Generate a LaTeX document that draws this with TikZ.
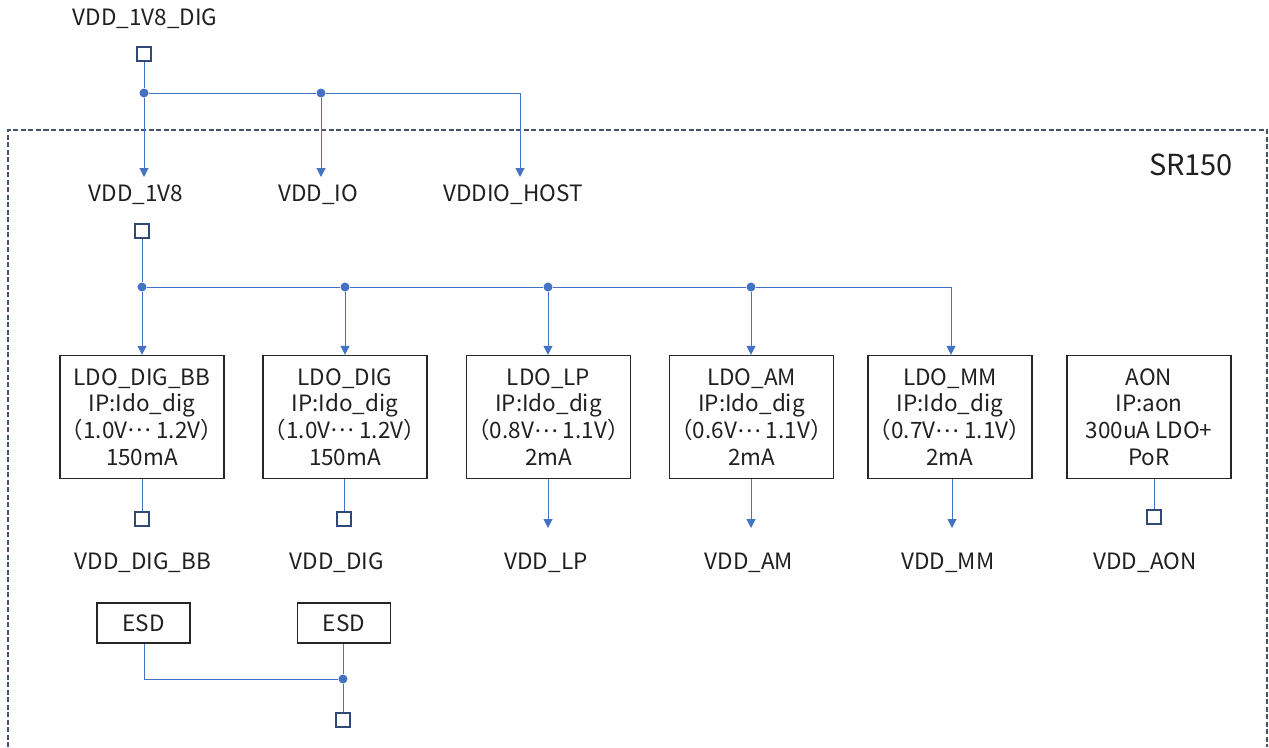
\documentclass[tikz,border=0pt]{standalone}
\usepackage{fontspec}
\setmainfont{Noto Sans CJK JP}
\usetikzlibrary{arrows.meta}
\definecolor{wirec}{HTML}{4472C4}
\definecolor{pinc}{HTML}{2F4A78}
\definecolor{framec}{HTML}{44546A}
\definecolor{txtc}{HTML}{202020}
\newcommand{\midell}{\raisebox{0.3em}{…}}
\begin{document}
\begin{tikzpicture}[x=1pt,y=-1pt,
  wire/.style={draw=wirec, line width=1pt},
  arr/.style={draw=wirec, line width=1pt, -{Triangle[width=9pt,length=9pt]}},
  pinsq/.style={draw=pinc, line width=1.6pt, fill=white, minimum size=14pt, inner sep=0pt},
  jdot/.style={circle, fill=wirec, inner sep=0pt, minimum size=9pt},
  ldobox/.style={draw=black!85, line width=1.4pt, minimum width=164pt, minimum height=123pt,
     inner sep=0pt, align=center, font=\fontsize{22.5}{26.8}\selectfont, text=txtc},
  esdbox/.style={draw=black!85, line width=1.4pt, minimum width=93pt, minimum height=40pt,
     inner sep=0pt, font=\fontsize{22.5}{26}\selectfont, text=txtc},
  lbl/.style={inner sep=0pt, font=\fontsize{22.5}{26}\selectfont, text=txtc}]
\useasboundingbox (0,0) rectangle (1269,747);
% frame
\draw[draw=framec, line width=1.6pt, dash pattern=on 5pt off 2.5pt]
  (8,747) -- (8,130) -- (1267,130) -- (1267,747);
\node[lbl, font=\fontsize{29}{32}\selectfont] (sr) at (1191,165) {SR150};
% top supply
\node[lbl] (vdig) at (145,19) {VDD\_1V8\_DIG};
\node[pinsq] (p0) at (144,54) {};
\node[jdot] (d0) at (144,93) {};
\node[jdot] (d1) at (321,93) {};
\coordinate (c0) at (520,93);
\coordinate (a1) at (144,177);
\coordinate (a2) at (321,177);
\coordinate (a3) at (520,177);
\draw[wire] (p0) -- (d0);
\draw[wire] (d0) -- (d1) -- (c0);
\draw[arr] (d0) -- (a1);
\draw[arr] (d1) -- (a2);
\draw[arr] (c0) -- (a3);
\node[lbl] (v18) at (136,195) {VDD\_1V8};
\node[lbl] (vio) at (318,195) {VDD\_IO};
\node[lbl] (vhost) at (513,195) {VDDIO\_HOST};
% 1V8 distribution
\node[pinsq] (p1) at (142,231) {};
\node[jdot] (e0) at (142,287) {};
\node[jdot] (e1) at (345,287) {};
\node[jdot] (e2) at (548,287) {};
\node[jdot] (e3) at (751,287) {};
\coordinate (e4) at (951,287);
\draw[wire] (p1) -- (e0);
\draw[wire] (e0) -- (e1) -- (e2) -- (e3) -- (e4);
% boxes
\node[ldobox] (b1) at (142,417) {LDO\_DIG\_BB\\IP:Ido\_dig\\（1.0V\midell{} 1.2V）\\150mA};
\node[ldobox] (b2) at (345,417) {LDO\_DIG\\IP:Ido\_dig\\（1.0V\midell{} 1.2V）\\150mA};
\node[ldobox] (b3) at (548.5,417) {LDO\_LP\\IP:Ido\_dig\\（0.8V\midell{} 1.1V）\\2mA};
\node[ldobox] (b4) at (751.5,417) {LDO\_AM\\IP:Ido\_dig\\（0.6V\midell{} 1.1V）\\2mA};
\node[ldobox] (b5) at (950,417) {LDO\_MM\\IP:Ido\_dig\\（0.7V\midell{} 1.1V）\\2mA};
\node[ldobox] (b6) at (1149,417) {AON\\IP:aon\\300uA LDO+\\PoR};
\draw[arr] (e0) -- (e0 |- b1.north);
\draw[arr] (e1) -- (e1 |- b2.north);
\draw[arr] (e2) -- (e2 |- b3.north);
\draw[arr] (e3) -- (e3 |- b4.north);
\draw[arr] (e4) -- (e4 |- b5.north);
% outputs
\node[pinsq] (p2) at (142,519) {};
\node[pinsq] (p3) at (344,519) {};
\node[pinsq] (p6) at (1154,517) {};
\coordinate (o3) at (548,528);
\coordinate (o4) at (751,528);
\coordinate (o5) at (952,528);
\draw[wire] (b1.south -| p2) -- (p2);
\draw[wire] (b2.south -| p3) -- (p3);
\draw[wire] (b6.south -| p6) -- (p6);
\draw[arr] (b3.south -| o3) -- (o3);
\draw[arr] (b4.south -| o4) -- (o4);
\draw[arr] (b5.south -| o5) -- (o5);
\node[lbl] (vbb) at (143,563) {VDD\_DIG\_BB};
\node[lbl] (vd) at (337,563) {VDD\_DIG};
\node[lbl] (vlp) at (546,563) {VDD\_LP};
\node[lbl] (vam) at (749,563) {VDD\_AM};
\node[lbl] (vmm) at (948,563) {VDD\_MM};
\node[lbl] (vaon) at (1145,563) {VDD\_AON};
% ESD
\node[esdbox] (s1) at (143.5,623) {ESD};
\node[esdbox] (s2) at (344,623) {ESD};
\node[jdot] (f0) at (343,679) {};
\node[pinsq] (p7) at (343,720) {};
\coordinate (f1) at (144,679);
\draw[wire] (s1.south -| f1) -- (f1) -- (f0);
\draw[wire] (s2.south -| f0) -- (f0) -- (p7);
\end{tikzpicture}
\end{document}
